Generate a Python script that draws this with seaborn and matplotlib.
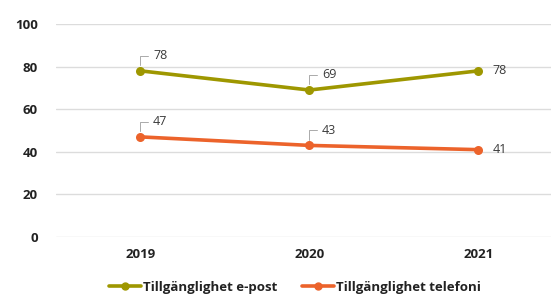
import numpy as np
import pandas as pd
import matplotlib.pyplot as plt
import seaborn as sns

years = [2019, 2020, 2021]
epost = [78, 69, 78]
telefoni = [47, 43, 41]
series_names = ["Tillgänglighet e-post", "Tillgänglighet telefoni"]
colors = ["#9E9700", "#EC632B"]
yticks = [0, 20, 40, 60, 80, 100]

df = pd.DataFrame({
    "år": years * 2,
    "värde": epost + telefoni,
    "serie": [series_names[0]] * 3 + [series_names[1]] * 3,
})

sns.set_theme(style="white")
plt.rcParams['font.family'] = ['Open Sans', 'DejaVu Sans']

fig = plt.figure(figsize=(5.51, 2.98), dpi=100)
ax = fig.add_axes([56 / 551, 61 / 298, 1 - 56 / 551, 213 / 298])

sns.lineplot(data=df, x="år", y="värde", hue="serie", palette=colors,
             marker="o", markersize=6.5, markeredgewidth=0, linewidth=2.6,
             ax=ax, legend=False)

ax.set_xlim(2018.5, 2021.43)
ax.set_ylim(0, 100)
ax.set_yticks(yticks)
ax.set_xticks(years)
ax.set_xticklabels([str(y) for y in years], fontsize=9.5, fontweight='bold', color='#222222')
ax.set_yticklabels([str(t) for t in yticks], fontsize=9.5, fontweight='bold', color='#222222')
ax.tick_params(axis='x', pad=8, length=0)
ax.tick_params(axis='y', pad=13, length=0)
ax.grid(axis='y', color='#dcdcdc', linewidth=1)
ax.set_axisbelow(True)
for s in ax.spines.values():
    s.set_visible(False)
ax.set_xlabel("")
ax.set_ylabel("")

# datalabels
for vals in (epost, telefoni):
    for i, (x, v) in enumerate(zip(years, vals)):
        if i < 2:
            ax.annotate(str(v), xy=(x, v), xytext=(9, 11), textcoords='offset points',
                        fontsize=9, color='#3a3a3a', va='center', ha='left',
                        arrowprops=dict(arrowstyle='-', color='#aaaaaa', lw=0.7,
                                        connectionstyle='angle,angleA=0,angleB=90,rad=0',
                                        shrinkA=1, shrinkB=4))
        else:
            ax.annotate(str(v), xy=(x, v), xytext=(10, 0), textcoords='offset points',
                        fontsize=9, color='#3a3a3a', va='center', ha='left')

handles = [plt.Line2D([], [], color=c, marker='o', markersize=5, linewidth=2.6) for c in colors]
leg = fig.legend(handles, series_names, loc='lower center', bbox_to_anchor=(0.535, -0.025),
                 ncol=2, frameon=False, handlelength=2.4, handletextpad=0.15, columnspacing=1.9,
                 prop={'size': 9.5, 'weight': 'bold'})
for t in leg.get_texts():
    t.set_color('#222222')

fig.savefig("out.png", dpi=100)
